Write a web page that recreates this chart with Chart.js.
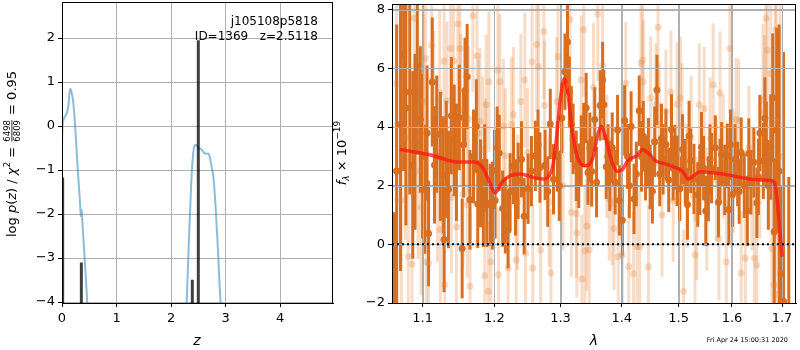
<!DOCTYPE html>
<html>
<head>
<meta charset="utf-8">
<script src="https://cdn.jsdelivr.net/npm/chart.js@4.4.0/dist/chart.umd.min.js"></script>
<style>
body { margin: 0; background: #fff; width: 800px; height: 350px; position: relative; overflow: hidden; }
canvas { position: absolute; top: 0; }
#pzCanvas { left: 0; }
#specCanvas { left: 330px; }
</style>
</head>
<body>
<canvas id="pzCanvas" width="335" height="350"></canvas>
<canvas id="specCanvas" width="470" height="350"></canvas>
<script>
// ---- p(z) panel data ----
const zTicks = [0, 1, 2, 3, 4];
const logpTicks = [-4, -3, -2, -1, 0, 1, 2];
const blueZ = [0.0, 0.005, 0.02, 0.06, 0.10, 0.12, 0.14, 0.155, 0.17, 0.20, 0.23, 0.26, 0.29, 0.32, 0.34, 0.345, 0.35, 0.36, 0.37, 0.40, 0.43, 0.46, 0.49,
               1.0,
               2.25, 2.29, 2.33, 2.37, 2.40, 2.43, 2.46, 2.50, 2.55, 2.60, 2.64, 2.68, 2.71, 2.74, 2.78, 2.82, 2.86, 2.89, 2.93];
const blueLogP = [-0.5, -0.15, 0.1, 0.22, 0.35, 0.5, 0.78, 0.85, 0.8, 0.6, 0.2, -0.4, -1.0, -1.55, -1.95, -2.05, -1.92, -1.9, -2.1, -2.7, -3.3, -3.95, -4.6,
                  null,
                  -4.6, -3.9, -2.5, -1.3, -0.7, -0.45, -0.43, -0.5, -0.52, -0.6, -0.63, -0.62, -0.7, -0.9, -1.2, -1.9, -2.8, -3.6, -4.5];
const barZ = [0.012, 0.355, 2.39, 2.50];
const barTop = [-1.17, -3.1, -3.49, 1.95];

// ---- spectrum panel data ----
const lamTicks = [1.1, 1.2, 1.3, 1.4, 1.5, 1.6, 1.7];
const fluxTicks = [-2, 0, 2, 4, 6, 8];

const darkLam = [1.063, 1.066, 1.071, 1.075, 1.078, 1.083, 1.087, 1.090, 1.093, 1.097, 1.100, 1.103, 1.108, 1.113, 1.116, 1.119, 1.124, 1.128, 1.129, 1.135,
  1.139, 1.143, 1.146, 1.150, 1.154, 1.158, 1.161, 1.165, 1.170, 1.174, 1.176, 1.180, 1.184, 1.189, 1.194, 1.197, 1.200, 1.201, 1.204, 1.207,
  1.212, 1.216, 1.220, 1.223, 1.228, 1.235, 1.240, 1.244, 1.250, 1.255, 1.261, 1.268, 1.276, 1.280, 1.284, 1.289, 1.295, 1.302, 1.307, 1.311,
  1.314, 1.320, 1.325, 1.329, 1.333, 1.337, 1.341, 1.344, 1.350, 1.355, 1.358, 1.364, 1.368, 1.370, 1.374, 1.380, 1.384, 1.389, 1.396, 1.401,
  1.405, 1.410, 1.416, 1.421, 1.425, 1.430, 1.437, 1.441, 1.446, 1.453, 1.457, 1.461, 1.466, 1.472, 1.477, 1.482, 1.487, 1.493, 1.497, 1.502,
  1.507, 1.512, 1.516, 1.522, 1.528, 1.535, 1.542, 1.546, 1.550, 1.555, 1.561, 1.568, 1.574, 1.580, 1.586, 1.591, 1.594, 1.601, 1.606, 1.611,
  1.618, 1.624, 1.630, 1.637, 1.643, 1.649, 1.655, 1.662, 1.668, 1.672, 1.677, 1.681, 1.684, 1.689, 1.694, 1.698, 1.703, 1.714,
  1.106, 1.132, 1.156, 1.186, 1.231, 1.265, 1.298, 1.317, 1.347, 1.377, 1.393, 1.413, 1.434, 1.449, 1.469, 1.490, 1.519, 1.539, 1.558, 1.577,
  1.597, 1.614, 1.633, 1.652, 1.665];
const darkFlux = [-2.5, 2.5, 4.09, 6.5, 4.65, 5.2, 2.71, 3.5, 6.06, 4.26, 3.0, 1.88, 0.37, 5.54, 2.71, 3.76, 3.0, 2.37, 0.17, 1.87,
  4.39, 3.55, 2.8, 4.33, -0.14, 5.25, 5.72, 1.52, 3.0, 4.03, 1.38, 2.08, 1.41, 1.41, 1.35, 1.32, 2.51, 1.50, 3.30, 3.12,
  1.22, 0.99, 0.48, 1.81, 2.67, 2.17, 2.9, 0.96, 1.9, 2.5, 3.02, 2.62, 2.71, 1.8, 4.11, 2.22, 3.0, 4.31, 5.89, 6.90,
  5.21, 3.6, 2.68, 2.34, 3.2, 3.73, 4.65, 2.45, 2.49, 4.26, 2.12, 4.74, 5.61, 4.76, 2.65, 2.34, 3.3, 2.12, 1.50, 0.82,
  4.23, 3.0, 4.02, 1.55, 2.40, 4.56, 3.69, 2.6, 3.11, 1.81, 3.5, 5.27, 2.40, 2.9, 3.41, 2.2, 3.92, 2.98, 2.51, 1.9,
  3.24, 2.5, 1.36, 2.85, 2.23, 1.7, 3.32, 2.6, 1.14, 1.89, 2.6, 3.30, 1.44, 3.07, 2.2, 3.02, 1.19, 1.70, 2.9, 2.40,
  3.13, 2.0, 1.14, 2.12, 2.8, 1.42, 3.80, 2.85, 3.47, 2.0, 3.32, 5.0, 0.43, 3.89, 2.5, -1.0, -1.94, -2.3,
  3.8, 2.9, 3.4, 2.6, 1.6, 3.4, 2.0, 4.1, 3.3, 3.0, 3.9, 2.0, 3.0, 2.3, 3.6, 2.6, 3.7, 2.1, 2.9, 2.5,
  3.4, 1.8, 3.1, 2.3, 4.3];
const darkErr = [3.6, 5.0, 5.0, 4.0, 4.0, 3.5, 3.2, 3.0, 3.0, 2.5, 2.8, 2.2, 1.8, 2.2, 2.0, 2.0, 2.2, 2.0, 1.8, 2.0,
  2.0, 1.9, 2.0, 1.8, 1.7, 1.8, 1.8, 1.7, 1.6, 1.6, 1.5, 1.5, 1.5, 1.5, 1.4, 1.5, 1.4, 1.3, 1.4, 1.3,
  1.3, 1.3, 1.3, 1.3, 1.3, 1.3, 1.3, 1.3, 1.2, 1.2, 1.2, 1.2, 1.2, 1.2, 1.2, 1.2, 1.2, 1.2, 1.3, 1.4,
  1.2, 1.2, 1.2, 1.1, 1.2, 1.1, 1.2, 1.1, 1.2, 1.1, 1.2, 1.2, 1.3, 1.2, 1.1, 1.2, 1.2, 1.1, 1.2, 1.2,
  1.2, 1.1, 1.2, 1.2, 1.1, 1.2, 1.2, 1.1, 1.2, 1.1, 1.2, 1.2, 1.1, 1.2, 1.2, 1.1, 1.2, 1.1, 1.2, 1.1,
  1.2, 1.1, 1.2, 1.1, 1.2, 1.1, 1.2, 1.1, 1.2, 1.1, 1.2, 1.1, 1.2, 1.1, 1.2, 1.1, 1.2, 1.1, 1.2, 1.1,
  1.2, 1.1, 1.2, 1.1, 1.2, 1.2, 1.3, 1.3, 1.4, 1.5, 1.8, 2.2, 2.5, 3.5, 5.0, 3.0, 8.5, 4.6,
  2.3, 2.0, 1.8, 1.5, 1.3, 1.2, 1.2, 1.3, 1.2, 1.1, 1.2, 1.1, 1.2, 1.1, 1.2, 1.1, 1.2, 1.1, 1.2, 1.1,
  1.2, 1.1, 1.2, 1.3, 1.4];

const lightLam = [1.066, 1.072, 1.077, 1.081, 1.086, 1.089, 1.094, 1.098, 1.101, 1.104, 1.105, 1.108, 1.112, 1.115, 1.120, 1.123, 1.124, 1.129, 1.130, 1.133,
  1.138, 1.139, 1.142, 1.146, 1.148, 1.151, 1.152, 1.155, 1.161, 1.163, 1.165, 1.169, 1.175, 1.177, 1.179, 1.183, 1.187, 1.186, 1.188, 1.192,
  1.191, 1.195, 1.205, 1.206, 1.208, 1.213, 1.216, 1.220, 1.225, 1.228, 1.232, 1.234, 1.239, 1.245, 1.246, 1.249, 1.256, 1.257, 1.263, 1.266,
  1.269, 1.274, 1.275, 1.282, 1.285, 1.294, 1.296, 1.304, 1.315, 1.317, 1.325, 1.326, 1.333, 1.334, 1.337, 1.339, 1.342, 1.346, 1.353, 1.360,
  1.368, 1.375, 1.379, 1.384, 1.387, 1.394, 1.401, 1.407, 1.412, 1.420, 1.426, 1.431, 1.433, 1.436, 1.437, 1.446, 1.450, 1.459, 1.463, 1.465,
  1.470, 1.477, 1.486, 1.490, 1.497, 1.503, 1.506, 1.509, 1.515, 1.523, 1.530, 1.533, 1.538, 1.547, 1.552, 1.558, 1.564, 1.570, 1.575, 1.577,
  1.583, 1.589, 1.596, 1.603, 1.608, 1.613, 1.618, 1.626, 1.633, 1.639, 1.644, 1.649, 1.655, 1.661, 1.664, 1.667, 1.670, 1.677, 1.679, 1.684,
  1.686, 1.687, 1.688, 1.696];
const lightFlux = [5.5, 1.5, 3.64, -0.42, -0.68, 7.71, 2.5, 1.27, 4.87, 6.34, -0.59, -0.64, 6.79, 4.48, 2.2, 5.16, 0.51, 6.25, -1.38, 4.90,
  6.68, 1.61, 6.25, 0.59, 7.52, 6.68, 4.59, 1.72, 1.36, 4.28, -1.43, 7.80, 6.43, 3.80, 4.20, 3.24, 2.57, -1.07, 4.76, 5.55,
  -1.60, -0.59, 5.95, -1.04, 5.55, 4.03, 3.02, -0.81, 4.09, 4.43, -0.53, 1.44, 4.87, 5.61, -0.30, 3.13, 6.23, -0.81, 6.82, 6.06,
  -0.19, 7.26, 4.74, 1.44, -0.98, 4.87, 6.40, 2.0, 7.67, 1.10, 1.05, 0.39, 5.61, -1.18, 7.33, -0.22, 0.62, -0.19, 5.35, 7.86,
  6.11, 3.0, 1.55, 1.39, 0.54, -0.42, -0.36, 5.49, -0.76, -1.00, -0.08, -0.08, 6.17, 6.28, 5.55, -0.76, 4.99, 4.76, 7.41, 4.09,
  1.0, 4.54, 5.19, 1.5, 4.78, 4.99, 4.09, -1.60, 2.0, 3.64, -0.36, 0.88, 4.76, 4.63, 1.2, 3.6, 5.44, 2.2, 0.20, 5.16,
  3.0, -0.59, 6.68, 2.5, 4.26, 4.22, -0.98, -0.47, 3.3, 1.9, -0.47, -0.70, 2.6, 4.93, 4.54, 7.71, 6.62, 5.83, -0.14, -1.38,
  4.20, -1.71, 7.33, 3.0];
const lightErr = [4.5, 4.0, 3.5, 3.5, 3.3, 3.5, 3.0, 3.0, 3.0, 3.0, 2.8, 2.8, 2.9, 2.8, 2.8, 2.8, 2.7, 2.8, 2.7, 2.7,
  2.7, 2.6, 2.6, 2.6, 2.7, 2.6, 2.6, 2.5, 2.5, 2.5, 2.5, 2.6, 2.5, 2.5, 2.5, 2.5, 2.4, 2.4, 2.4, 2.4,
  2.4, 2.3, 2.3, 2.3, 2.3, 2.3, 2.3, 2.3, 2.3, 2.3, 2.3, 2.3, 2.3, 2.3, 2.2, 2.2, 2.3, 2.2, 2.3, 2.3,
  2.2, 2.3, 2.2, 2.2, 2.2, 2.2, 2.2, 2.2, 2.3, 2.2, 2.2, 2.2, 2.2, 2.2, 2.3, 2.2, 2.2, 2.2, 2.2, 2.3,
  2.2, 2.1, 2.1, 2.1, 2.1, 2.1, 2.1, 2.1, 2.1, 2.1, 2.1, 2.1, 2.1, 2.1, 2.1, 2.1, 2.1, 2.1, 2.2, 2.1,
  2.1, 2.1, 2.1, 2.1, 2.1, 2.1, 2.1, 2.1, 2.1, 2.1, 2.1, 2.1, 2.1, 2.1, 2.1, 2.1, 2.1, 2.1, 2.1, 2.1,
  2.1, 2.1, 2.2, 2.1, 2.1, 2.1, 2.1, 2.1, 2.1, 2.1, 2.2, 2.2, 2.4, 2.6, 2.6, 3.0, 3.0, 3.5, 3.5, 3.5,
  4.0, 4.0, 4.5, 5.5];

const modelLam = [1.070, 1.111, 1.148, 1.171, 1.183, 1.193, 1.201, 1.211, 1.223, 1.238, 1.258, 1.272, 1.285, 1.292, 1.300, 1.306, 1.311, 1.318, 1.327, 1.341,
  1.352, 1.360, 1.366, 1.373, 1.384, 1.393, 1.402, 1.410, 1.425, 1.436, 1.448, 1.459, 1.477, 1.494, 1.506, 1.518, 1.527, 1.540, 1.561, 1.592,
  1.623, 1.656, 1.679, 1.686, 1.690, 1.695, 1.700];
const modelFlux = [3.24, 3.05, 2.81, 2.81, 2.62, 2.12, 1.76, 2.12, 2.34, 2.40, 2.28, 2.23, 2.45, 3.30, 4.99, 5.66, 5.27, 3.97, 2.96, 2.68,
  2.96, 3.75, 4.03, 3.64, 2.79, 2.49, 2.57, 2.85, 3.02, 3.24, 3.07, 2.85, 2.74, 2.62, 2.51, 2.23, 2.34, 2.48, 2.45, 2.37,
  2.26, 2.20, 2.17, 2.00, 1.50, 0.59, -0.42];

const LAM_MIN = 1.06, LAM_MAX = 1.729;
const DARK = 'rgb(216,110,32)';
const LIGHT = 'rgba(225,128,55,0.28)';
const GRID = '#b0b0b0';
const FONT = 'DejaVu Sans';

Chart.defaults.font.family = FONT;
Chart.defaults.color = '#000';

const minus = v => String(v).replace('-', '\u2212');

// draws a run of text pieces along the current x direction, centred on 0
function drawPieces(ctx, pieces) {
    const widths = pieces.map(p => {
        ctx.font = p.font;
        if (p.num) {
            return Math.max(ctx.measureText(p.num).width, ctx.measureText(p.den).width) + 2;
        }
        return ctx.measureText(p.t).width;
    });
    const total = widths.reduce((a, b) => a + b, 0);
    let x = -total / 2;
    ctx.textBaseline = 'alphabetic';
    ctx.textAlign = 'left';
    pieces.forEach((p, i) => {
        ctx.font = p.font;
        if (p.num) {
            const w = widths[i];
            ctx.textAlign = 'center';
            ctx.fillText(p.num, x + w / 2, -6);
            ctx.fillText(p.den, x + w / 2, 4);
            ctx.textAlign = 'left';
            ctx.fillRect(x + 1, -4.5, w - 2, 0.8);
        } else {
            ctx.fillText(p.t, x, p.dy || 0);
        }
        x += widths[i];
    });
}

function gridOpts() {
    return { color: GRID, lineWidth: 1, tickColor: '#000', tickLength: 4, drawTicks: true };
}

// keep chart area where matplotlib put it: no extra room for half labels
function fixX(s) { s.height = 47; s.paddingLeft = 0; s.paddingRight = 0; }
function fixY(s) { s.width = 62; s.paddingTop = 0; s.paddingBottom = 0; }

// ---- p(z) chart ----
const barPoints = [];
barZ.forEach((z, i) => {
    barPoints.push({x: z, y: -4.2}, {x: z, y: barTop[i]}, {x: z, y: null});
});

const pzPlugin = {
    id: 'pzExtras',
    afterDraw(chart) {
        const {ctx, chartArea: a} = chart;
        ctx.save();
        ctx.strokeStyle = '#000';
        ctx.lineWidth = 1;
        ctx.strokeRect(a.left + 0.5, a.top + 0.5, a.right - a.left - 1, a.bottom - a.top);
        ctx.fillStyle = '#000';
        ctx.font = '12px ' + FONT;
        ctx.textAlign = 'right';
        ctx.fillText('j105108p5818', 318, 25);
        ctx.fillText('ID=1369   z=2.5118', 318, 40);
        ctx.font = 'italic 14px ' + FONT;
        ctx.textAlign = 'center';
        ctx.fillText('z', 197, 345);
        ctx.translate(16, 154);
        ctx.rotate(-Math.PI / 2);
        const n = '13px ' + FONT, it = 'italic 13px ' + FONT, sm = '8.5px ' + FONT;
        drawPieces(ctx, [
            {t: 'log ', font: n}, {t: 'p', font: it}, {t: '(', font: n}, {t: 'z', font: it}, {t: ') / ', font: n},
            {t: '\u03c7', font: it}, {t: '2', font: '9px ' + FONT, dy: -6}, {t: ' = ', font: n},
            {num: '6498', den: '6809', font: sm}, {t: ' = 0.95', font: n}
        ]);
        ctx.restore();
    }
};

new Chart(document.getElementById('pzCanvas'), {
    type: 'line',
    data: {
        datasets: [
            {
                data: blueZ.map((z, i) => ({x: z, y: blueLogP[i]})),
                borderColor: 'rgba(31,119,180,0.5)',
                borderWidth: 2,
                pointRadius: 0,
                cubicInterpolationMode: 'monotone',
                spanGaps: false,
                order: 2
            },
            {
                data: barPoints,
                borderColor: 'rgba(0,0,0,0.75)',
                borderWidth: 3,
                pointRadius: 0,
                spanGaps: false,
                order: 1
            }
        ]
    },
    options: {
        responsive: false,
        animation: false,
        devicePixelRatio: 1,
        layout: {padding: {top: 2, right: 2, left: 0, bottom: 0}},
        plugins: {legend: {display: false}, tooltip: {enabled: false}},
        scales: {
            x: {
                type: 'linear', min: 0, max: 4.97,
                afterFit: fixX,
                afterBuildTicks: s => { s.ticks = zTicks.map(v => ({value: v})); },
                ticks: {font: {size: 13}, padding: 4, maxRotation: 0, callback: v => minus(v)},
                grid: gridOpts(),
                border: {color: '#000'}
            },
            y: {
                type: 'linear', min: -4.02, max: 2.82,
                afterFit: fixY,
                afterBuildTicks: s => { s.ticks = logpTicks.map(v => ({value: v})); },
                ticks: {font: {size: 13}, padding: 3, callback: v => minus(v)},
                grid: gridOpts(),
                border: {color: '#000'}
            }
        }
    },
    plugins: [pzPlugin]
});

// ---- spectrum chart ----
function drawBars(ctx, x, y, lam, flux, err, color) {
    ctx.strokeStyle = color;
    ctx.lineWidth = 3;
    lam.forEach((l, i) => {
        const px = x.getPixelForValue(l);
        ctx.beginPath();
        ctx.moveTo(px, y.getPixelForValue(flux[i] - err[i]));
        ctx.lineTo(px, y.getPixelForValue(flux[i] + err[i]));
        ctx.stroke();
    });
}

const specPlugin = {
    id: 'specExtras',
    beforeDatasetsDraw(chart) {
        const {ctx, chartArea: a, scales: {x, y}} = chart;
        ctx.save();
        ctx.beginPath();
        ctx.rect(a.left, a.top, a.right - a.left, a.bottom - a.top);
        ctx.clip();
        drawBars(ctx, x, y, lightLam, lightFlux, lightErr, LIGHT);
        drawBars(ctx, x, y, darkLam, darkFlux, darkErr, DARK);
        // grid sits on top of the error bars
        ctx.strokeStyle = GRID;
        ctx.lineWidth = 1;
        lamTicks.forEach(v => {
            const px = Math.round(x.getPixelForValue(v)) + 0.5;
            ctx.beginPath(); ctx.moveTo(px, a.top); ctx.lineTo(px, a.bottom); ctx.stroke();
        });
        fluxTicks.forEach(v => {
            const py = Math.round(y.getPixelForValue(v)) + 0.5;
            ctx.beginPath(); ctx.moveTo(a.left, py); ctx.lineTo(a.right, py); ctx.stroke();
        });
        ctx.restore();
    },
    afterDraw(chart) {
        const {ctx, chartArea: a} = chart;
        ctx.save();
        ctx.strokeStyle = '#000';
        ctx.lineWidth = 1;
        ctx.strokeRect(a.left + 0.5, a.top + 0.5, a.right - a.left - 1, a.bottom - a.top);
        ctx.fillStyle = '#000';
        ctx.font = 'italic 14px ' + FONT;
        ctx.textAlign = 'center';
        ctx.fillText('\u03bb', 264, 345);
        ctx.font = '6.5px ' + FONT;
        ctx.textAlign = 'right';
        ctx.fillText('Fri Apr 24 15:00:31 2020', 458, 342);
        ctx.translate(16, 153);
        ctx.rotate(-Math.PI / 2);
        drawPieces(ctx, [
            {t: 'f', font: 'italic 13px ' + FONT}, {t: '\u03bb', font: 'italic 9px ' + FONT, dy: 3},
            {t: ' \u00d7 10', font: '13px ' + FONT}, {t: '\u221219', font: '9px ' + FONT, dy: -6}
        ]);
        ctx.restore();
    }
};

new Chart(document.getElementById('specCanvas'), {
    type: 'scatter',
    data: {
        datasets: [
            {
                data: lightLam.map((l, i) => ({x: l, y: lightFlux[i]})),
                backgroundColor: LIGHT, borderWidth: 0, pointRadius: 3.5, order: 4
            },
            {
                data: darkLam.map((l, i) => ({x: l, y: darkFlux[i]})),
                backgroundColor: DARK, borderWidth: 0, pointRadius: 3.5, order: 3
            },
            {
                type: 'line',
                data: modelLam.map((l, i) => ({x: l, y: modelFlux[i]})),
                borderColor: 'rgba(255,20,20,0.75)', borderWidth: 3.5, pointRadius: 0,
                cubicInterpolationMode: 'monotone', order: 2
            },
            {
                type: 'line',
                data: [{x: LAM_MIN, y: 0}, {x: LAM_MAX, y: 0}],
                borderColor: '#000', borderWidth: 2, borderDash: [2, 3], pointRadius: 0, order: 1
            }
        ]
    },
    options: {
        responsive: false,
        animation: false,
        devicePixelRatio: 1,
        layout: {padding: {top: 2, right: 3, left: 0, bottom: 0}},
        plugins: {legend: {display: false}, tooltip: {enabled: false}},
        scales: {
            x: {
                type: 'logarithmic', min: LAM_MIN, max: LAM_MAX,
                afterFit: fixX,
                afterBuildTicks: s => { s.ticks = lamTicks.map(v => ({value: v})); },
                ticks: {font: {size: 13}, padding: 4, autoSkip: false, maxRotation: 0, callback: v => Number(v).toFixed(1)},
                grid: gridOpts(),
                border: {color: '#000'}
            },
            y: {
                type: 'linear', min: -2, max: 8.2,
                afterFit: fixY,
                afterBuildTicks: s => { s.ticks = fluxTicks.map(v => ({value: v})); },
                ticks: {font: {size: 13}, padding: 3, callback: v => minus(v)},
                grid: gridOpts(),
                border: {color: '#000'}
            }
        }
    },
    plugins: [specPlugin]
});
</script>
</body>
</html>
